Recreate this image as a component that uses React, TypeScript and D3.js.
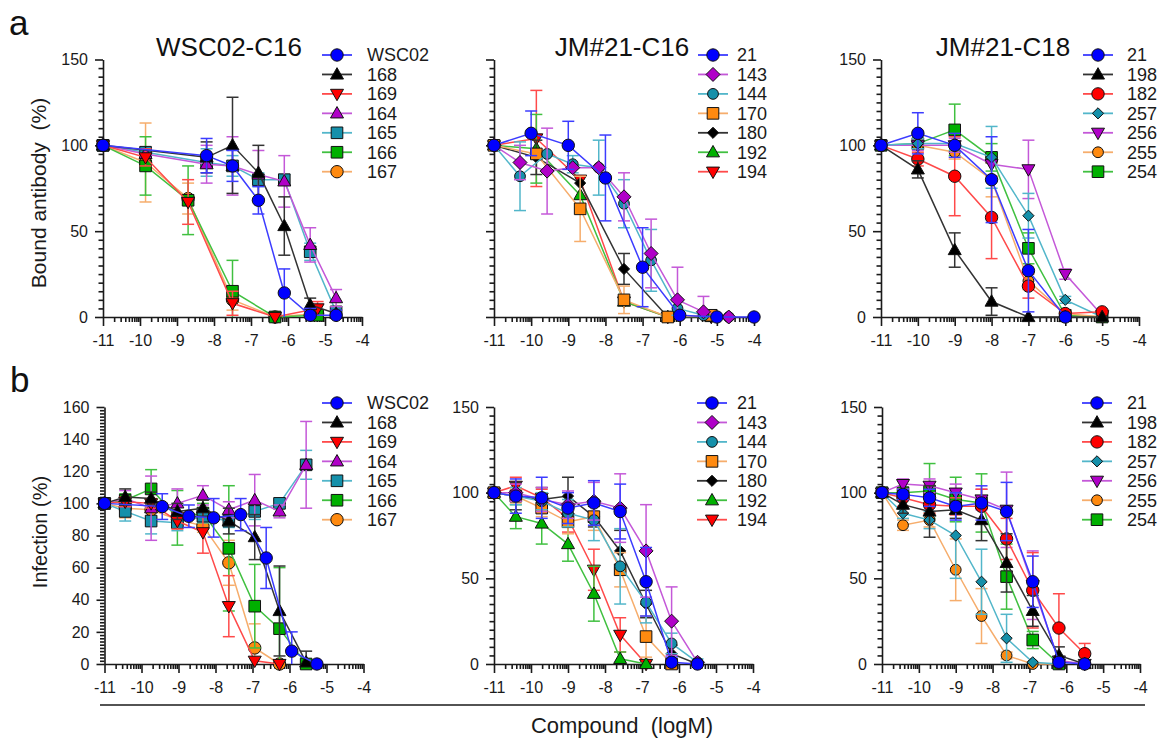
import React, { useEffect, useRef } from 'react'
import * as d3 from 'd3'

// x axis of every panel: compound (logM)
const doseTicks = [-11, -10, -9, -8, -7, -6, -5, -4]

// ---------- a: bound antibody (%) ----------
// each point: [logM, mean, error]
const bindWscLabels = ['WSC02', '168', '169', '164', '165', '166', '167']
const bindWsc02 = [[-11, 100, 0], [-8.2, 94, 10], [-7.5, 88, 9], [-6.8, 68, 8], [-6.1, 14, 14], [-5.4, 1, 4], [-4.7, 1, 3]]
const bindWsc168 = [[-11, 100, 0], [-8.2, 93, 9], [-7.5, 100, 28], [-6.8, 84, 16], [-6.1, 53, 17], [-5.4, 7, 4], [-4.7, 2, 2]]
const bindWsc169 = [[-11, 100, 0], [-9.85, 93, 5], [-8.7, 67, 13], [-7.5, 8, 7], [-6.35, 0, 0], [-5.2, 5, 4]]
const bindWsc164 = [[-11, 100, 0], [-9.85, 95, 0], [-8.2, 89, 11], [-7.5, 88, 17], [-6.8, 83, 14], [-6.1, 79, 15], [-5.4, 42, 10], [-4.7, 11, 5]]
const bindWsc165 = [[-11, 100, 0], [-9.85, 96, 0], [-8.2, 90, 8], [-7.5, 88, 6], [-6.8, 80, 4], [-6.1, 80, 3], [-5.4, 38, 5], [-4.7, 3, 3]]
const bindWsc166 = [[-11, 100, 0], [-9.85, 88, 17], [-8.7, 68, 20], [-7.5, 15, 18], [-6.35, 0, 0], [-5.2, 1, 1]]
const bindWsc167 = [[-11, 100, 0], [-9.85, 90, 23], [-8.7, 69, 9], [-7.5, 10, 6], [-6.35, 0, 0], [-5.2, 2, 1]]

const bindJm16Labels = ['21', '143', '144', '170', '180', '192', '194']
const bindJm16_21 = [[-11, 100, 0], [-10, 107, 13], [-9, 100, 14], [-8, 81, 25], [-7, 29, 23], [-6, 1, 1], [-5, 0, 0], [-4, 0, 0]]
const bindJm16_143 = [[-11, 100, 0], [-10.3, 90, 10], [-9.57, 85, 25], [-8.88, 87, 0], [-8.18, 87, 0], [-7.5, 70, 14], [-6.77, 37, 20], [-6.06, 10, 19], [-5.36, 3, 9], [-4.68, 0, 0]]
const bindJm16_144 = [[-11, 100, 0], [-10.3, 82, 20], [-9.57, 95, 0], [-8.88, 89, 5], [-8.18, 87, 16], [-7.5, 66, 14], [-6.77, 33, 18], [-6.06, 5, 4], [-5.36, 1, 2], [-4.68, 0, 0]]
const bindJm16_170 = [[-11, 100, 0], [-9.86, 95, 0], [-8.68, 63, 19], [-7.5, 10, 8], [-6.32, 0, 0], [-5.15, 1, 1]]
const bindJm16_180 = [[-11, 100, 0], [-9.86, 93, 10], [-8.68, 78, 0], [-7.5, 28, 9], [-6.32, 0, 0], [-5.15, 0, 0]]
const bindJm16_192 = [[-11, 100, 0], [-9.86, 98, 20], [-8.68, 71, 0], [-7.5, 9, 2], [-6.32, 0, 0], [-5.15, 0, 0]]
const bindJm16_194 = [[-11, 100, 0], [-9.86, 104, 28], [-8.68, 80, 0], [-7.5, 9, 2], [-6.32, 0, 0], [-5.15, 0, 0]]

const bindJm18Labels = ['21', '198', '182', '257', '256', '255', '254']
const bindJm18_21 = [[-11, 100, 0], [-10, 107, 12], [-9, 100, 7], [-8, 80, 25], [-7, 27, 24], [-6, 0, 1]]
const bindJm18_198 = [[-11, 100, 0], [-10, 86, 5], [-9, 39, 10], [-8, 9, 8], [-7, 0, 0], [-6, 0, 0], [-5, 0, 0]]
const bindJm18_182 = [[-11, 100, 0], [-10, 92, 4], [-9, 82, 23], [-8, 58, 24], [-7, 18, 7], [-6, 2, 1], [-5, 3, 0]]
const bindJm18_257 = [[-11, 100, 0], [-10, 101, 3], [-9, 101, 4], [-8, 93, 18], [-7, 59, 13], [-6, 10, 2], [-5, 0, 0]]
const bindJm18_256 = [[-11, 100, 0], [-10, 100, 3], [-9, 100, 4], [-8, 89, 0], [-7, 86, 17], [-6, 25, 3], [-5, 1, 0]]
const bindJm18_255 = [[-11, 100, 0], [-10, 100, 0], [-9, 96, 4], [-8, 80, 10], [-7, 21, 5], [-6, 2, 0], [-5, 0, 0]]
const bindJm18_254 = [[-11, 100, 0], [-10, 101, 2], [-9, 109, 15], [-8, 93, 8], [-7, 40, 9], [-6, 1, 0], [-5, 0, 0]]

// ---------- b: infection (%) ----------
const infWsc02 = [[-11, 100, 0], [-9.44, 98, 8], [-8.72, 92, 7], [-8.05, 91, 12], [-7.32, 93, 10], [-6.63, 66, 19], [-5.94, 8, 12], [-5.26, 0, 0]]
const infWsc168 = [[-11, 100, 0], [-10.44, 104, 5], [-9.74, 103, 4], [-9.03, 95, 5], [-8.34, 97, 5], [-7.64, 89, 8], [-6.94, 79, 14], [-6.27, 33, 28], [-5.55, 1, 7]]
const infWsc169 = [[-11, 100, 0], [-10.44, 101, 3], [-9.74, 100, 3], [-9.03, 89, 5], [-8.34, 82, 13], [-7.64, 36, 19], [-6.94, 2, 0], [-6.27, 0, 0]]
const infWsc164 = [[-11, 100, 0], [-10.44, 103, 5], [-9.74, 97, 20], [-9.03, 100, 9], [-8.34, 105, 6], [-7.64, 96, 5], [-6.94, 102, 16], [-6.27, 95, 4], [-5.55, 124, 27]]
const infWsc165 = [[-11, 100, 0], [-10.44, 95, 6], [-9.74, 89, 8], [-9.03, 88, 5], [-8.34, 92, 4], [-7.64, 89, 4], [-6.94, 95, 5], [-6.27, 100, 2], [-5.55, 124, 9]]
const infWsc166 = [[-11, 100, 0], [-10.44, 102, 4], [-9.74, 109, 12], [-9.03, 91, 17], [-8.34, 94, 6], [-7.64, 72, 39], [-6.94, 36, 26], [-6.27, 22, 38], [-5.55, 0, 0]]
const infWsc167 = [[-11, 100, 0], [-10.44, 97, 6], [-9.74, 96, 5], [-9.03, 90, 4], [-8.34, 86, 4], [-7.64, 63, 14], [-6.94, 10, 15], [-6.27, 0, 0]]

const infJm16_21 = [[-11, 100, 0], [-10.41, 98, 10], [-9.71, 97, 12], [-9.0, 91, 9], [-8.3, 94, 13], [-7.59, 89, 16], [-6.89, 48, 20], [-6.2, 1, 3], [-5.5, 0, 0]]
const infJm16_143 = [[-11, 100, 0], [-10.41, 100, 5], [-9.71, 96, 7], [-9.0, 93, 8], [-8.3, 95, 11], [-7.59, 91, 20], [-6.89, 66, 27], [-6.2, 25, 20], [-5.5, 1, 0]]
const infJm16_144 = [[-11, 100, 0], [-10.41, 98, 5], [-9.71, 95, 5], [-9.0, 88, 8], [-8.3, 84, 12], [-7.59, 57, 22], [-6.89, 36, 12], [-6.2, 12, 6], [-5.5, 1, 2]]
const infJm16_170 = [[-11, 100, 0], [-10.41, 98, 4], [-9.71, 91, 5], [-9.0, 83, 7], [-8.3, 86, 8], [-7.59, 55, 10], [-6.89, 16, 12], [-6.2, 0, 0]]
const infJm16_180 = [[-11, 100, 0], [-10.41, 98, 8], [-9.71, 96, 7], [-9.0, 98, 11], [-8.3, 86, 6], [-7.59, 66, 12], [-6.89, 35, 8], [-6.2, 6, 5], [-5.5, 0, 0]]
const infJm16_192 = [[-11, 100, 0], [-10.41, 86, 7], [-9.71, 82, 12], [-9.0, 70, 10], [-8.3, 41, 16], [-7.59, 3, 4], [-6.89, 0, 0]]
const infJm16_194 = [[-11, 100, 0], [-10.41, 104, 5], [-9.71, 97, 5], [-9.0, 85, 8], [-8.3, 55, 12], [-7.59, 17, 10], [-6.89, 0, 0]]

const infJm18_21 = [[-11, 100, 0], [-10.43, 99, 3], [-9.71, 97, 5], [-9.0, 92, 8], [-8.3, 94, 10], [-7.62, 89, 17], [-6.91, 48, 15], [-6.2, 1, 2], [-5.5, 0, 0]]
const infJm18_198 = [[-11, 100, 0], [-10.43, 93, 5], [-9.71, 89, 15], [-9.0, 90, 5], [-8.3, 84, 12], [-7.62, 59, 17], [-6.91, 31, 9], [-6.2, 5, 5], [-5.5, 0, 0]]
const infJm18_182 = [[-11, 100, 0], [-10.43, 97, 5], [-9.71, 93, 5], [-9.0, 92, 5], [-8.3, 92, 10], [-7.62, 73, 12], [-6.91, 43, 22], [-6.2, 21, 20], [-5.5, 6, 6]]
const infJm18_257 = [[-11, 100, 0], [-10.43, 88, 3], [-9.71, 84, 5], [-9.0, 75, 25], [-8.3, 48, 19], [-7.62, 15, 14], [-6.91, 1, 0], [-6.2, 0, 0]]
const infJm18_256 = [[-11, 100, 0], [-10.43, 105, 3], [-9.71, 104, 4], [-9.0, 100, 5], [-8.3, 96, 6], [-7.62, 90, 22], [-6.91, 46, 20], [-6.2, 2, 0], [-5.5, 0, 0]]
const infJm18_255 = [[-11, 100, 0], [-10.43, 81, 3], [-9.71, 84, 4], [-9.0, 55, 18], [-8.3, 28, 16], [-7.62, 5, 2], [-6.91, 0, 0], [-6.2, 0, 0]]
const infJm18_254 = [[-11, 100, 0], [-10.43, 100, 3], [-9.71, 101, 16], [-9.0, 96, 13], [-8.3, 94, 17], [-7.62, 51, 19], [-6.91, 14, 5], [-6.2, 0, 0]]

// marker shape + colour per legend row
const wscMarks = [['circle', 'blue'], ['triUp', 'black'], ['triDown', 'red'], ['triUp', 'purple'], ['square', 'teal'], ['square', 'green'], ['circle', 'orange']]
const jm16Marks = [['circle', 'blue'], ['diamond', 'purple'], ['circleSm', 'teal'], ['square', 'orange'], ['diamondSm', 'black'], ['triUp', 'green'], ['triDown', 'red']]
const jm18Marks = [['circle', 'blue'], ['triUp', 'black'], ['circle', 'red'], ['diamondSm', 'teal'], ['triDown', 'purple'], ['circleSm', 'orange'], ['square', 'green']]

const palette = {
  blue: { fill: '#0000ff', line: '#3c3cff' },
  black: { fill: '#000000', line: '#333333' },
  red: { fill: '#ff0000', line: '#ff4a4a' },
  purple: { fill: '#b000c8', line: '#c458d8' },
  teal: { fill: '#1590aa', line: '#52b6ca' },
  green: { fill: '#00b000', line: '#40c040' },
  orange: { fill: '#ff8a10', line: '#f6ad6c' },
}

const font = "'Liberation Sans', Arial, Helvetica, sans-serif"

function shapePath(shape) {
  switch (shape) {
    case 'circle': return 'M6.2,0A6.2,6.2 0 1,1 -6.2,0A6.2,6.2 0 1,1 6.2,0Z'
    case 'circleSm': return 'M5.4,0A5.4,5.4 0 1,1 -5.4,0A5.4,5.4 0 1,1 5.4,0Z'
    case 'square': return 'M-5.8,-5.8H5.8V5.8H-5.8Z'
    case 'triUp': return 'M0,-6.8L6.5,4.6L-6.5,4.6Z'
    case 'triDown': return 'M0,6.8L6.5,-4.6L-6.5,-4.6Z'
    case 'diamond': return 'M0,-7L7,0L0,7L-7,0Z'
    case 'diamondSm': return 'M0,-5.6L5.6,0L0,5.6L-5.6,0Z'
    default: return ''
  }
}

const panels = [
  { title: 'WSC02-C16', titleX: 229, labels: bindWscLabels, marks: wscMarks,
    series: [bindWsc02, bindWsc168, bindWsc169, bindWsc164, bindWsc165, bindWsc166, bindWsc167],
    x0: 103, x1: 362, y0: 317, y1: 59.5, ymax: 150, major: 50, minor: 5, yLabels: true,
    legX: 337, legTX: 367, legY: 55 },
  { title: 'JM#21-C16', titleX: 622, labels: bindJm16Labels, marks: jm16Marks,
    series: [bindJm16_21, bindJm16_143, bindJm16_144, bindJm16_170, bindJm16_180, bindJm16_192, bindJm16_194],
    x0: 494, x1: 754, y0: 317, y1: 59.5, ymax: 150, major: 50, minor: 5, yLabels: false,
    legX: 713, legTX: 737, legY: 55 },
  { title: 'JM#21-C18', titleX: 1003, labels: bindJm18Labels, marks: jm18Marks,
    series: [bindJm18_21, bindJm18_198, bindJm18_182, bindJm18_257, bindJm18_256, bindJm18_255, bindJm18_254],
    x0: 881, x1: 1139, y0: 317, y1: 59.5, ymax: 150, major: 50, minor: 5, yLabels: true,
    legX: 1098, legTX: 1127, legY: 55 },
  { title: '', labels: bindWscLabels, marks: wscMarks,
    series: [infWsc02, infWsc168, infWsc169, infWsc164, infWsc165, infWsc166, infWsc167],
    x0: 104.5, x1: 363.5, y0: 664, y1: 407, ymax: 160, major: 20, minor: 2, yLabels: true,
    legX: 337, legTX: 367, legY: 403 },
  { title: '', labels: bindJm16Labels, marks: jm16Marks,
    series: [infJm16_21, infJm16_143, infJm16_144, infJm16_170, infJm16_180, infJm16_192, infJm16_194],
    x0: 494, x1: 753, y0: 664, y1: 407, ymax: 150, major: 50, minor: 5, yLabels: true,
    legX: 712, legTX: 737, legY: 403 },
  { title: '', labels: bindJm18Labels, marks: jm18Marks,
    series: [infJm18_21, infJm18_198, infJm18_182, infJm18_257, infJm18_256, infJm18_255, infJm18_254],
    x0: 882, x1: 1140, y0: 664, y1: 407, ymax: 150, major: 50, minor: 5, yLabels: true,
    legX: 1097, legTX: 1127, legY: 403 },
]

export default function App() {
  const ref = useRef(null)

  useEffect(() => {
    const svg = d3.select(ref.current)
    svg.selectAll('*').remove()

    const minorX = d3.range(-11, -4).flatMap(d => d3.range(2, 10).map(k => d + Math.log10(k)))

    panels.forEach(p => {
      const g = svg.append('g')
      const x = d3.scaleLinear([-11, -4], [p.x0, p.x1])
      const y = d3.scaleLinear([0, p.ymax], [p.y0, p.y1])

      // axes
      const styleAxis = ax => {
        ax.selectAll('path, line').attr('stroke', '#1a1a1a').attr('stroke-width', 1.6)
        ax.selectAll('text').attr('font-family', font).attr('font-size', 16).attr('fill', '#1a1a1a')
      }
      g.append('g').attr('transform', `translate(0,${p.y0})`)
        .call(d3.axisBottom(x).tickValues(minorX).tickSize(5).tickSizeOuter(0).tickFormat(() => ''))
        .call(ax => ax.select('.domain').remove())
        .call(styleAxis)
      g.append('g').attr('transform', `translate(0,${p.y0})`)
        .call(d3.axisBottom(x).tickValues(doseTicks).tickSize(9).tickPadding(8.5).tickSizeOuter(0).tickFormat(d => String(d)))
        .call(styleAxis)

      const majorY = d3.range(0, p.ymax + 0.01, p.major)
      const minorY = d3.range(0, p.ymax + 0.01, p.minor).filter(v => v % p.major !== 0)
      g.append('g').attr('transform', `translate(${p.x0},0)`)
        .call(d3.axisLeft(y).tickValues(minorY).tickSize(4.5).tickSizeOuter(0).tickFormat(() => ''))
        .call(ax => ax.select('.domain').remove())
        .call(styleAxis)
      g.append('g').attr('transform', `translate(${p.x0},0)`)
        .call(d3.axisLeft(y).tickValues(majorY).tickSize(8).tickPadding(7).tickSizeOuter(0)
          .tickFormat(d => (p.yLabels ? String(d) : '')))
        .call(styleAxis)

      // series, drawn last-to-first so the first legend entry sits on top
      const line = d3.line().x(d => x(d[0])).y(d => y(d[1]))
      d3.range(p.series.length).reverse().forEach(i => {
        const pts = p.series[i]
        const [shape, col] = p.marks[i]
        const c = palette[col]
        const sg = g.append('g')
        sg.append('path').attr('d', line(pts)).attr('fill', 'none')
          .attr('stroke', c.line).attr('stroke-width', 1.5)
        pts.filter(d => d[2] > 0).forEach(d => {
          const lo = Math.max(0, d[1] - d[2])
          const hi = Math.min(p.ymax, d[1] + d[2])
          const eb = sg.append('g').attr('stroke', c.line).attr('stroke-width', 1.5)
          eb.append('line').attr('x1', x(d[0])).attr('x2', x(d[0])).attr('y1', y(lo)).attr('y2', y(hi))
          eb.append('line').attr('x1', x(d[0]) - 6).attr('x2', x(d[0]) + 6).attr('y1', y(hi)).attr('y2', y(hi))
          if (d[1] - d[2] > 0) {
            eb.append('line').attr('x1', x(d[0]) - 6).attr('x2', x(d[0]) + 6).attr('y1', y(lo)).attr('y2', y(lo))
          }
        })
        sg.selectAll('path.mk').data(pts).join('path').attr('class', 'mk')
          .attr('d', shapePath(shape))
          .attr('transform', d => `translate(${x(d[0])},${y(d[1])})`)
          .attr('fill', c.fill).attr('stroke', '#111').attr('stroke-width', 1)
      })

      // legend
      p.labels.forEach((lab, i) => {
        const [shape, col] = p.marks[i]
        const c = palette[col]
        const ly = p.legY + i * 19.45
        g.append('line').attr('x1', p.legX - 15).attr('x2', p.legX + 15).attr('y1', ly).attr('y2', ly)
          .attr('stroke', c.line).attr('stroke-width', 1.8)
        g.append('path').attr('d', shapePath(shape)).attr('transform', `translate(${p.legX},${ly})`)
          .attr('fill', c.fill).attr('stroke', '#111').attr('stroke-width', 1)
        g.append('text').attr('x', p.legTX).attr('y', ly).attr('dy', '0.36em')
          .attr('font-family', font).attr('font-size', 18).attr('fill', '#1a1a1a').text(lab)
      })

      if (p.title) {
        g.append('text').attr('x', p.titleX).attr('y', 56).attr('text-anchor', 'middle')
          .attr('font-family', font).attr('font-size', 26).attr('fill', '#111').text(p.title)
      }
    })

    // panel letters, axis titles
    svg.append('text').attr('x', 9).attr('y', 35).attr('font-family', font).attr('font-size', 35).attr('fill', '#111').text('a')
    svg.append('text').attr('x', 10).attr('y', 392).attr('font-family', font).attr('font-size', 35).attr('fill', '#111').text('b')
    svg.append('text').attr('transform', 'translate(46,193) rotate(-90)').attr('text-anchor', 'middle')
      .attr('font-family', font).attr('font-size', 21).attr('fill', '#1a1a1a').text('Bound antibody\u00a0\u00a0(%)')
    svg.append('text').attr('transform', 'translate(47,532) rotate(-90)').attr('text-anchor', 'middle')
      .attr('font-family', font).attr('font-size', 20).attr('fill', '#1a1a1a').text('Infection (%)')
    svg.append('line').attr('x1', 100).attr('x2', 1145).attr('y1', 705).attr('y2', 705)
      .attr('stroke', '#1a1a1a').attr('stroke-width', 1.5)
    svg.append('text').attr('x', 622).attr('y', 733).attr('text-anchor', 'middle')
      .attr('font-family', font).attr('font-size', 22).attr('fill', '#1a1a1a').text('Compound\u00a0\u00a0(logM)')
  }, [])

  return (
    <svg ref={ref} width={1158} height={738}
      style={{ position: 'absolute', left: 0, top: 0, background: '#fff' }} />
  )
}
